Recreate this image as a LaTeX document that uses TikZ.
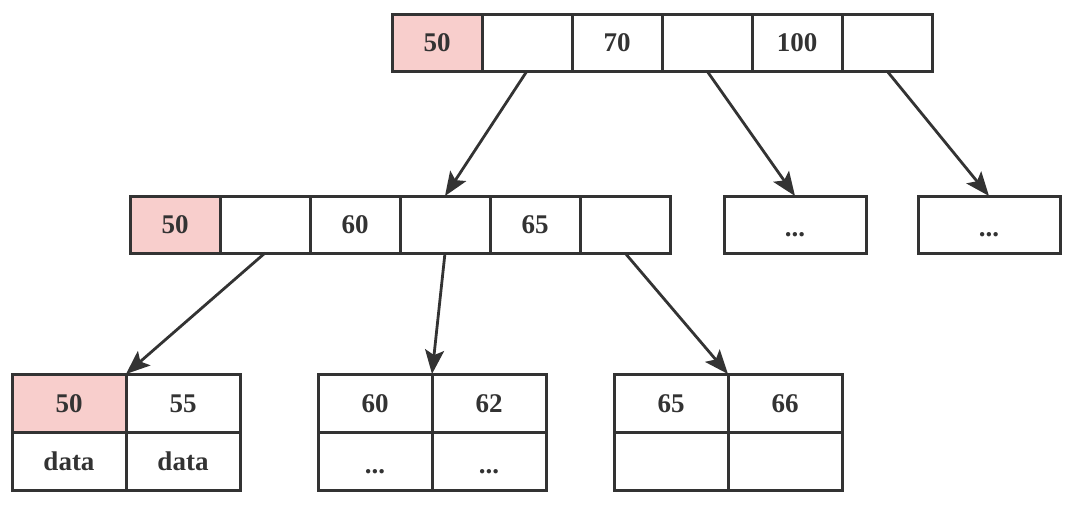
\documentclass[tikz,border=0pt]{standalone}
\usepackage{fontspec}
\setmainfont{Liberation Serif}
\usetikzlibrary{arrows.meta}
\definecolor{pinkfill}{HTML}{F8CECC}
\definecolor{ink}{HTML}{333333}
\tikzset{
  cell/.style={draw=ink, line width=3pt, fill=white, minimum width=90pt, minimum height=57pt,
    inner sep=0pt, outer sep=0pt, font=\fontsize{27}{32}\selectfont\bfseries, text=ink,
    text height=18pt, text depth=0pt},
  key/.style={cell, fill=pinkfill},
  dotbox/.style={cell, minimum width=142pt, text height=24pt},
  leaf/.style={cell, minimum width=114pt, minimum height=58pt},
  leafkey/.style={leaf, fill=pinkfill},
  leafdots/.style={leaf, text height=24pt},
  link/.style={draw=ink, line width=2.8pt, -{Stealth[length=24pt,width=19pt,inset=5pt]}},
}
\begin{document}
\begin{tikzpicture}[x=1pt,y=-1pt]
\useasboundingbox (0,0) rectangle (1076,504);
% top node
\node[key]  (t1) at (437,42.5) {50};
\node[cell] (t2) at (527,42.5) {};
\node[cell] (t3) at (617,42.5) {70};
\node[cell] (t4) at (707,42.5) {};
\node[cell] (t5) at (797,42.5) {100};
\node[cell] (t6) at (887,42.5) {};
% middle node
\node[key]  (m1) at (175,224.5) {50};
\node[cell] (m2) at (265,224.5) {};
\node[cell] (m3) at (355,224.5) {60};
\node[cell] (m4) at (445,224.5) {};
\node[cell] (m5) at (535,224.5) {65};
\node[cell] (m6) at (625,224.5) {};
% ellipsis boxes
\node[dotbox] (d1) at (795,224.5) {...};
\node[dotbox] (d2) at (989,224.5) {...};
% leaves
\node[leafkey] (l1a) at (69,403) {50};
\node[leaf]    (l1b) at (183,403) {55};
\node[leaf]    (l1c) at (69,461) {data};
\node[leaf]    (l1d) at (183,461) {data};
\node[leaf] (l2a) at (375,403) {60};
\node[leaf] (l2b) at (489,403) {62};
\node[leafdots] (l2c) at (375,461) {...};
\node[leafdots] (l2d) at (489,461) {...};
\node[leaf] (l3a) at (671,403) {65};
\node[leaf] (l3b) at (785,403) {66};
\node[leaf] (l3c) at (671,461) {};
\node[leaf] (l3d) at (785,461) {};
% links
\draw[link] (t2.south) -- (m4.north);
\draw[link] (t4.south) -- (d1.north);
\draw[link] (t6.south) -- (d2.north);
\draw[link] (m2.south) -- (l1a.north east);
\draw[link] (m4.south) -- (l2a.north east);
\draw[link] (m6.south) -- (l3a.north east);
\end{tikzpicture}
\end{document}
